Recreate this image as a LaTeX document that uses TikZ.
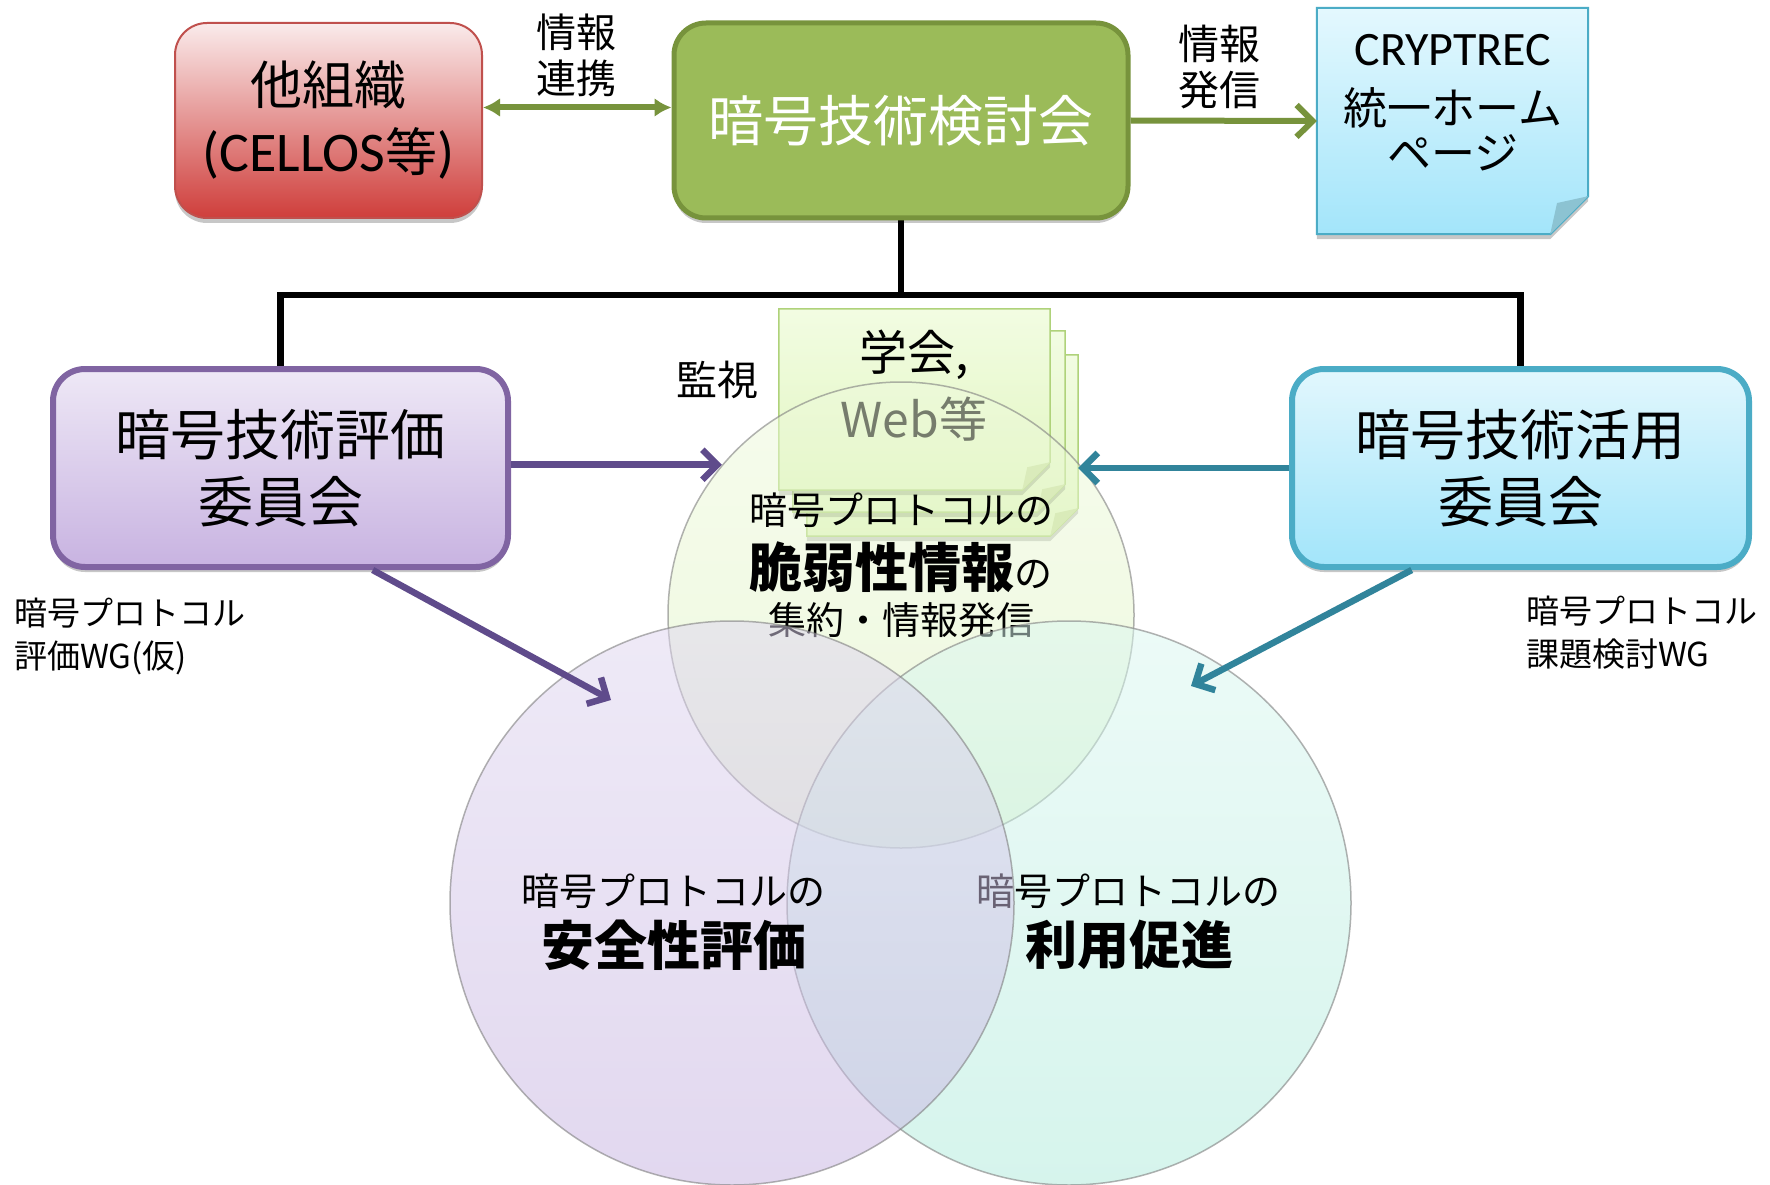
\documentclass[tikz,border=0pt]{standalone}
\usepackage{fontspec}
\setmainfont{Noto Sans CJK JP}
\newfontfamily\latf{Carlito}
\usetikzlibrary{arrows.meta,shadows,calc}
\pgfdeclarelayer{background}
\pgfsetlayers{background,main}

\definecolor{redtop}{HTML}{FAEBEB}
\definecolor{redbot}{HTML}{CF3E3B}
\definecolor{redline}{HTML}{C0504D}
\definecolor{greenfill}{HTML}{9BBB59}
\definecolor{greenline}{HTML}{77933C}
\definecolor{webtop}{HTML}{E4F8FE}
\definecolor{webbot}{HTML}{A3E5FA}
\definecolor{webline}{HTML}{4BACC6}
\definecolor{webfold}{HTML}{8CC3D2}
\definecolor{purptop}{HTML}{EEE8F6}
\definecolor{purpbot}{HTML}{C8B3E1}
\definecolor{purpline}{HTML}{8064A2}
\definecolor{cyantop}{HTML}{E2F7FD}
\definecolor{cyanbot}{HTML}{A2E5FA}
\definecolor{cyanline}{HTML}{4BACC6}
\definecolor{arrgreen}{HTML}{77933C}
\definecolor{arrpurp}{HTML}{5F4B8B}
\definecolor{arrteal}{HTML}{31849B}
\definecolor{notetop}{HTML}{F2FCE2}
\definecolor{notebot}{HTML}{E2F6C2}
\definecolor{noteline}{HTML}{AFD27A}
\definecolor{notefold}{HTML}{CADFA0}
\definecolor{ctoptop}{HTML}{EEFADC}
\definecolor{ctopbot}{HTML}{DDF2BC}
\definecolor{clefttop}{HTML}{DFD6F0}
\definecolor{cleftbot}{HTML}{C6B2E1}
\definecolor{crighttop}{HTML}{DBF8F1}
\definecolor{crightbot}{HTML}{AEEBDB}
\definecolor{cline}{HTML}{7F7F7F}

\newcommand\foldnote[4]{%
  \path[#3] (#1.north west) -- (#1.north east) -- ([yshift=#2]#1.south east)
     -- ([xshift=-#2]#1.south east) -- (#1.south west) -- cycle;
  \fill[#4] ([yshift=#2]#1.south east) -- ([xshift=-0.82*#2,yshift=0.82*#2]#1.south east)
     -- ([xshift=-#2]#1.south east) -- cycle;
}

\begin{document}
\begin{tikzpicture}[x=1pt,y=-1pt,
  shd/.style={drop shadow={shadow xshift=0pt,shadow yshift=-5pt,opacity=0.22,fill=black}},
  box/.style={rounded corners=32pt, inner sep=0pt, align=center, shd},
  tree/.style={draw=black, line width=6.5pt},
  garrow/.style={draw=arrgreen, line width=6pt},
  parrow/.style={draw=arrpurp, line width=6.5pt, -{Straight Barb[length=15pt,width=30pt]}},
  tarrow/.style={draw=arrteal, line width=6.5pt, -{Straight Barb[length=15pt,width=30pt]}},
  websty/.style={top color=webtop, bottom color=webbot, draw=webline, line width=2pt, shd},
  notesty/.style={top color=notetop, bottom color=notebot, draw=noteline, line width=1.5pt, shd},
  venn/.style={circle, inner sep=0pt, draw=cline, line width=1.5pt, fill opacity=0.5, draw opacity=0.6},
  lbl/.style={inner sep=0pt, align=center}
]
\useasboundingbox (0,0) rectangle (1770,1185);
\begin{pgfonlayer}{background}
\fill[white] (0,0) rectangle (1770,1185);
\end{pgfonlayer}

% top row
\node[box, minimum width=307pt, minimum height=195pt, draw=redline, line width=2pt,
      top color=redtop, bottom color=redbot, font=\fontsize{52}{67}\selectfont]
      (other) at (328.5,120.5) {他組織\\{\latf\fontsize{56}{67}\selectfont(CELLOS}等{\latf\fontsize{56}{67}\selectfont)}};
\node[box, minimum width=454pt, minimum height=195pt, draw=greenline, line width=5pt,
      fill=greenfill, text=white, font=\fontsize{55}{60}\selectfont]
      (main) at (901,120.5) {暗号技術検討会};
\node[minimum width=271pt, minimum height=226pt, inner sep=0pt] (web) at (1452.5,121) {};
\foldnote{web}{38pt}{websty}{webfold}
\node[lbl, font=\fontsize{44}{45}\selectfont] (webtxt) at (1453,103)
      {{\latf\fontsize{48}{45}\selectfont CRYPTREC}\\[14pt]統一ホーム\\ページ};

% committees
\node[box, minimum width=455pt, minimum height=198pt, draw=purpline, line width=6pt,
      top color=purptop, bottom color=purpbot, font=\fontsize{55}{67}\selectfont]
      (eval) at (280.5,468) {暗号技術評価\\委員会};
\node[box, minimum width=457pt, minimum height=198pt, draw=cyanline, line width=6pt,
      top color=cyantop, bottom color=cyanbot, font=\fontsize{55}{67}\selectfont]
      (use) at (1520.5,468) {暗号技術活用\\委員会};

% tree
\coordinate (bus) at (901,295);
\begin{pgfonlayer}{background}
\draw[tree] (main.south) -- (bus);
\draw[tree] (eval.north) |- (bus) -| (use.north);
\end{pgfonlayer}

% top arrows
\draw[garrow, {Latex[length=17pt,width=19pt]}-{Latex[length=17pt,width=19pt]}]
  ([yshift=13pt]other.east) -- ([yshift=13pt]main.west);
\node[lbl, font=\fontsize{40}{46}\selectfont] (lblA) at (576,55) {情報\\連携};
\draw[garrow, -{Straight Barb[length=16pt,width=32pt]}] (main.east) -- (web.west);
\node[lbl, font=\fontsize{41}{46}\selectfont] (lblB) at (1219,67) {情報\\発信};

% notes
\node[minimum width=271pt, minimum height=181pt, inner sep=0pt] (note3) at (942.5,445.5) {};
\node[minimum width=272pt, minimum height=181pt, inner sep=0pt] (note2) at (929,421.5) {};
\node[minimum width=271pt, minimum height=181pt, inner sep=0pt] (note1) at (914.5,399.5) {};
\foldnote{note3}{28pt}{notesty}{notefold}
\foldnote{note2}{28pt}{notesty}{notefold}
\foldnote{note1}{28pt}{notesty}{notefold}
\node[lbl, font=\fontsize{48}{67}\selectfont] (notetxt) at (914,386) {学会,\\Web等};

\node[lbl, font=\fontsize{41}{45}\selectfont] (watch) at (717,380) {監視};

% Venn
\node[venn, minimum size=466pt, top color=ctoptop, bottom color=ctopbot] (vtop) at (901,615) {};
\node[lbl, font=\fontsize{38}{40}\selectfont] (tt1) at (901,510) {暗号プロトコルの};
\node[lbl] (tt2) at (901,567) {{\fontsize{53}{55}\selectfont\bfseries 脆弱性情報}{\fontsize{38}{40}\selectfont の}};
\node[lbl, font=\fontsize{38}{40}\selectfont] (tt3) at (901,620) {集約・情報発信};

\node[venn, minimum size=564pt, top color=crighttop, bottom color=crightbot] (vright) at (1069,903) {};
\node[lbl, font=\fontsize{38}{40}\selectfont] (rt1) at (1128,891) {暗号プロトコルの};
\node[lbl, font=\fontsize{52}{55}\selectfont\bfseries] (rt2) at (1129,945) {利用促進};

\node[venn, minimum size=564pt, top color=clefttop, bottom color=cleftbot] (vleft) at (732,903) {};
\node[lbl, font=\fontsize{38}{40}\selectfont] (lt1) at (673,891) {暗号プロトコルの};
\node[lbl, font=\fontsize{53}{55}\selectfont\bfseries] (lt2) at (674,945) {安全性評価};

% committee arrows
\draw[parrow] (vtop.140 -| eval.east) -- (vtop.140);
\draw[tarrow] (use.west) -- (use.west -| note3.east);
\coordinate (pa) at (611,700);
\coordinate (ta) at (1191,686);
\draw[parrow] ($(eval.south)!0.4!(eval.south east)$) -- (pa);
\draw[tarrow] ($(use.south)!0.47!(use.south west)$) -- (ta);

% WG labels
\node[anchor=west, align=left, inner sep=0pt, font=\fontsize{33}{43}\selectfont]
  (wgA) at (14,636) {暗号プロトコル\\評価WG(仮)};
\node[anchor=west, align=left, inner sep=0pt, font=\fontsize{33}{43}\selectfont]
  (wgB) at (1526,633) {暗号プロトコル\\課題検討WG};
\end{tikzpicture}
\end{document}
